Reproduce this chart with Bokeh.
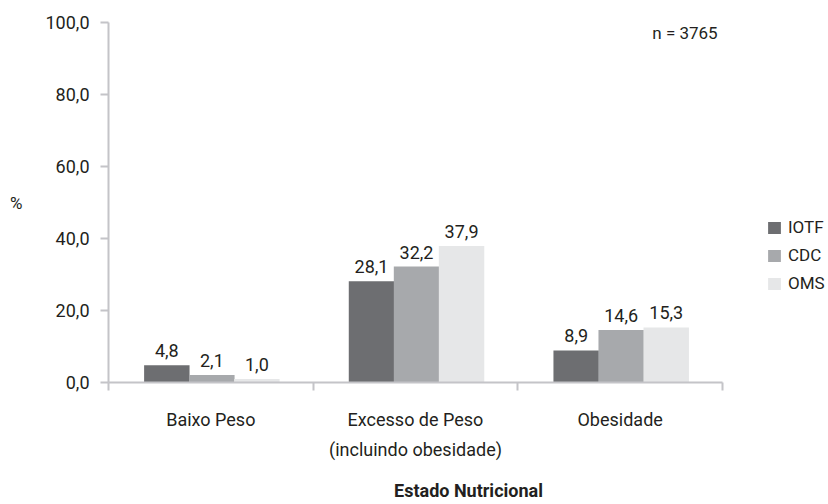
from bokeh.plotting import figure
from bokeh.models import ColumnDataSource, FixedTicker, Label, Legend, LegendItem, Range1d
from bokeh.core.properties import value
from bokeh.transform import dodge
from bokeh.embed import file_html
from bokeh.resources import INLINE

categories = ["Baixo Peso", "Excesso de Peso\n(incluindo obesidade)", "Obesidade"]
series = ["IOTF", "CDC", "OMS"]
iotf = [4.8, 28.1, 8.9]
cdc = [2.1, 32.2, 14.6]
oms = [1.0, 37.9, 15.3]
colors = ["#6d6e71", "#a7a9ac", "#e6e7e8"]
y_ticks = [0, 20, 40, 60, 80, 100]
n_text = "n = 3765"
x_title = "Estado Nutricional"
y_title = "%"

FONT = "Roboto"
TXT = "#231f20"
AX = "#c4c4c8"

W, H = 828, 504
LEFT, TOP, BOTTOM = 108, 22, 382
n_cat = len(categories)
unit_px = 614 / n_cat
x_end = (W - LEFT) / unit_px

xpos = [i + 0.5 for i in range(n_cat)]
src = ColumnDataSource(dict(
    x=xpos, IOTF=iotf, CDC=cdc, OMS=oms,
    IOTF_t=[f"{v:.1f}".replace(".", ",") for v in iotf],
    CDC_t=[f"{v:.1f}".replace(".", ",") for v in cdc],
    OMS_t=[f"{v:.1f}".replace(".", ",") for v in oms],
))

p = figure(width=W, height=H, output_backend="svg", toolbar_location=None,
           x_range=Range1d(0, x_end), y_range=Range1d(0, 100),
           min_border_left=LEFT, min_border_right=0, min_border_top=TOP,
           min_border_bottom=H - BOTTOM)
p.outline_line_color = None
p.xgrid.visible = False
p.ygrid.visible = False

offsets = [-0.215, 0.005, 0.225]
items = []
for s, c, off in zip(series, colors, offsets):
    r = p.vbar(x=dodge("x", off, range=p.x_range), top=s, width=0.222, source=src,
               fill_color=c, line_color=None)
    p.text(x=dodge("x", off, range=p.x_range), y=s, text=s + "_t", source=src,
           text_align="center", text_baseline="bottom", y_offset=-8,
           text_font=value(FONT), text_font_size=value("18px"), text_color=TXT)
    items.append(LegendItem(label=s, renderers=[r]))

# y axis
p.yaxis.ticker = FixedTicker(ticks=y_ticks)
p.yaxis.major_label_overrides = {t: f"{t:.1f}".replace(".", ",") for t in y_ticks}
p.yaxis.minor_tick_line_color = None
p.yaxis.major_tick_in = 0
p.yaxis.major_tick_out = 8
p.yaxis.axis_line_color = AX
p.yaxis.axis_line_width = 2
p.yaxis.major_tick_line_color = AX
p.yaxis.major_tick_line_width = 2
p.yaxis.major_label_standoff = 11
p.yaxis.major_label_text_font = FONT
p.yaxis.major_label_text_font_size = "18px"
p.yaxis.major_label_text_color = TXT
p.yaxis.axis_label = y_title
p.yaxis.axis_label_orientation = "horizontal"
p.yaxis.axis_label_standoff = 20
p.yaxis.axis_label_text_font = FONT
p.yaxis.axis_label_text_font_size = "17px"
p.yaxis.axis_label_text_font_style = "normal"
p.yaxis.axis_label_text_color = TXT

# x axis: labels at category centres, ticks at category boundaries
p.xaxis.bounds = (0, n_cat)
p.xaxis.ticker = FixedTicker(ticks=xpos, minor_ticks=list(range(n_cat + 1)))
p.xaxis.major_label_overrides = {xc: cat for xc, cat in zip(xpos, categories)}
p.xaxis.major_tick_in = 0
p.xaxis.major_tick_out = 0
p.xaxis.minor_tick_in = 0
p.xaxis.minor_tick_out = 8
p.xaxis.minor_tick_line_color = AX
p.xaxis.minor_tick_line_width = 2
p.xaxis.axis_line_color = AX
p.xaxis.axis_line_width = 2
p.xaxis.major_label_standoff = 18
p.xaxis.major_label_text_font = FONT
p.xaxis.major_label_text_font_size = "18px"
p.xaxis.major_label_text_line_height = 1.47
p.xaxis.major_label_text_color = TXT
p.xaxis.axis_label = x_title
p.xaxis.axis_label_standoff = 17
p.xaxis.axis_label_text_font = FONT
p.xaxis.axis_label_text_font_size = "18px"
p.xaxis.axis_label_text_font_style = "bold"
p.xaxis.axis_label_text_color = TXT

p.add_layout(Label(x=2.657, y=97.2, text=n_text, text_align="left", text_baseline="middle",
                   text_font=FONT, text_font_size="17px", text_color=TXT))

legend = Legend(items=items, location=(658, 89), orientation="vertical",
                glyph_width=16, glyph_height=15, label_height=15, spacing=8,
                label_standoff=6, padding=0, margin=0, border_line_color=None,
                background_fill_alpha=0, label_text_font=FONT, label_text_font_size="17px",
                label_text_color=TXT)
p.add_layout(legend)

open("out.html", "w").write(file_html(p, INLINE))
